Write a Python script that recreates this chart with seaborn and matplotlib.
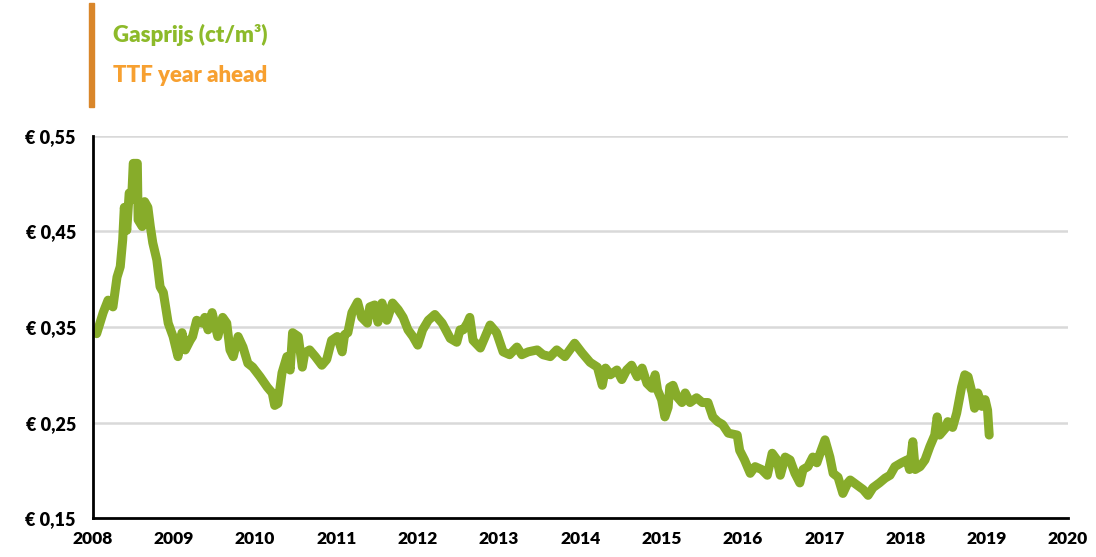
import pandas as pd
import matplotlib.pyplot as plt
import matplotlib.patches as mpatches
import seaborn as sns

# Gas price (EUR/m3)
years = [
    2008.05, 2008.13, 2008.19, 2008.25, 2008.30, 2008.34, 2008.37, 2008.39, 2008.42, 2008.45,
    2008.48, 2008.50, 2008.55, 2008.56, 2008.61, 2008.64, 2008.68, 2008.71, 2008.74, 2008.79,
    2008.83, 2008.87, 2008.93, 2008.99, 2009.05, 2009.10, 2009.14, 2009.20, 2009.23, 2009.28,
    2009.35, 2009.38, 2009.42, 2009.47, 2009.54, 2009.60, 2009.65, 2009.69, 2009.73, 2009.79,
    2009.85, 2009.91, 2009.97, 2010.06, 2010.15, 2010.21, 2010.24, 2010.28, 2010.33, 2010.39,
    2010.43, 2010.46, 2010.53, 2010.58, 2010.61, 2010.67, 2010.74, 2010.82, 2010.88, 2010.94,
    2011.01, 2011.07, 2011.10, 2011.14, 2011.19, 2011.26, 2011.31, 2011.38, 2011.41, 2011.47,
    2011.51, 2011.56, 2011.62, 2011.69, 2011.76, 2011.82, 2011.88, 2011.94, 2012.00, 2012.06,
    2012.13, 2012.21, 2012.30, 2012.40, 2012.48, 2012.52, 2012.56, 2012.61, 2012.64, 2012.68,
    2012.77, 2012.83, 2012.89, 2012.97, 2013.05, 2013.13, 2013.22, 2013.28, 2013.36, 2013.47,
    2013.54, 2013.63, 2013.71, 2013.81, 2013.93, 2014.02, 2014.12, 2014.21, 2014.27, 2014.31,
    2014.37, 2014.45, 2014.51, 2014.57, 2014.63, 2014.70, 2014.76, 2014.82, 2014.88, 2014.92,
    2014.95, 2015.00, 2015.04, 2015.08, 2015.10, 2015.14, 2015.19, 2015.25, 2015.29, 2015.35,
    2015.43, 2015.50, 2015.57, 2015.63, 2015.69, 2015.75, 2015.82, 2015.93, 2015.96, 2016.02,
    2016.09, 2016.15, 2016.23, 2016.30, 2016.36, 2016.42, 2016.46, 2016.52, 2016.58, 2016.64,
    2016.70, 2016.74, 2016.80, 2016.86, 2016.91, 2016.95, 2017.01, 2017.07, 2017.11, 2017.17,
    2017.23, 2017.29, 2017.32, 2017.40, 2017.48, 2017.54, 2017.60, 2017.68, 2017.75, 2017.81,
    2017.87, 2017.95, 2018.02, 2018.05, 2018.09, 2018.12, 2018.18, 2018.24, 2018.30, 2018.36,
    2018.39, 2018.42, 2018.49, 2018.52, 2018.58, 2018.63, 2018.69, 2018.73, 2018.77, 2018.82,
    2018.85, 2018.89, 2018.94, 2018.98, 2019.01, 2019.03,
]
prices = [
    0.343, 0.365, 0.378, 0.371, 0.402, 0.413, 0.441, 0.475, 0.451, 0.490,
    0.483, 0.521, 0.521, 0.462, 0.455, 0.481, 0.475, 0.455, 0.438, 0.420,
    0.392, 0.386, 0.354, 0.340, 0.319, 0.344, 0.326, 0.336, 0.340, 0.357,
    0.354, 0.360, 0.347, 0.365, 0.340, 0.360, 0.354, 0.326, 0.319, 0.340,
    0.329, 0.312, 0.308, 0.298, 0.287, 0.281, 0.268, 0.270, 0.302, 0.319,
    0.305, 0.344, 0.340, 0.308, 0.323, 0.326, 0.319, 0.310, 0.316, 0.336,
    0.340, 0.324, 0.342, 0.344, 0.365, 0.376, 0.360, 0.354, 0.371, 0.373,
    0.355, 0.375, 0.357, 0.375, 0.368, 0.360, 0.347, 0.340, 0.331, 0.347,
    0.357, 0.363, 0.354, 0.338, 0.334, 0.347, 0.347, 0.354, 0.360, 0.336,
    0.328, 0.340, 0.352, 0.344, 0.324, 0.321, 0.329, 0.321, 0.324, 0.326,
    0.321, 0.319, 0.326, 0.319, 0.333, 0.323, 0.313, 0.308, 0.289, 0.307,
    0.300, 0.305, 0.295, 0.305, 0.310, 0.298, 0.307, 0.291, 0.286, 0.300,
    0.284, 0.274, 0.256, 0.266, 0.287, 0.289, 0.277, 0.271, 0.281, 0.271,
    0.276, 0.271, 0.271, 0.256, 0.251, 0.248, 0.239, 0.237, 0.221, 0.211,
    0.197, 0.204, 0.201, 0.195, 0.218, 0.211, 0.195, 0.214, 0.211, 0.197,
    0.187, 0.201, 0.204, 0.214, 0.208, 0.218, 0.232, 0.214, 0.197, 0.193,
    0.176, 0.187, 0.190, 0.185, 0.180, 0.174, 0.182, 0.187, 0.192, 0.195,
    0.204, 0.208, 0.211, 0.201, 0.230, 0.201, 0.204, 0.211, 0.225, 0.237,
    0.256, 0.237, 0.244, 0.251, 0.245, 0.260, 0.287, 0.300, 0.298, 0.281,
    0.265, 0.281, 0.267, 0.274, 0.263, 0.237,
]

y_ticks = [0.15, 0.25, 0.35, 0.45, 0.55]
y_tick_labels = ["€ 0,15", "€ 0,25", "€ 0,35", "€ 0,45", "€ 0,55"]
x_ticks = list(range(2008, 2021))
legend_labels = ["Gasprijs (ct/m³)", "TTF year ahead"]

df = pd.DataFrame({"year": years, "price": prices})

sns.set_style("white")
plt.rcParams["font.family"] = ["Lato", "DejaVu Sans"]

green = "#87AC2A"
fig = plt.figure(figsize=(10.96, 5.57), dpi=100)
ax = fig.add_axes([0.0845, 0.0695, 0.890, 0.687])

for t in y_ticks[1:]:
    ax.axhline(t, color="#D9D9D9", lw=1.8, zorder=0)

sns.lineplot(data=df, x="year", y="price", ax=ax, color=green, lw=6.5,
             solid_capstyle="round", solid_joinstyle="round")

ax.set_xlim(2008, 2020)
ax.set_ylim(0.15, 0.55)
ax.set_xticks(x_ticks)
ax.set_xticklabels([str(x) for x in x_ticks], fontweight="heavy", fontsize=12.5)
ax.set_yticks(y_ticks)
ax.set_yticklabels(y_tick_labels, fontweight="heavy", fontsize=13)
ax.set_xlabel("")
ax.set_ylabel("")

for s in ["top", "right"]:
    ax.spines[s].set_visible(False)
for s in ["left", "bottom"]:
    ax.spines[s].set_color("black")
    ax.spines[s].set_linewidth(2)
ax.tick_params(axis="x", direction="in", length=6, width=2, pad=9, colors="black")
ax.tick_params(axis="y", direction="out", length=5, width=2, pad=7, colors="black")

# header legend with orange bar
fig.patches.append(mpatches.Rectangle((0.081, 0.808), 0.0045, 0.187, transform=fig.transFigure,
                                      color="#D9862A", zorder=5))
fig.text(0.103, 0.937, legend_labels[0], color="#8DBA2A", fontsize=16, fontweight="heavy", va="center")
fig.text(0.103, 0.865, legend_labels[1], color="#F7A030", fontsize=16, fontweight="heavy", va="center")

fig.savefig("out.png", dpi=100)
